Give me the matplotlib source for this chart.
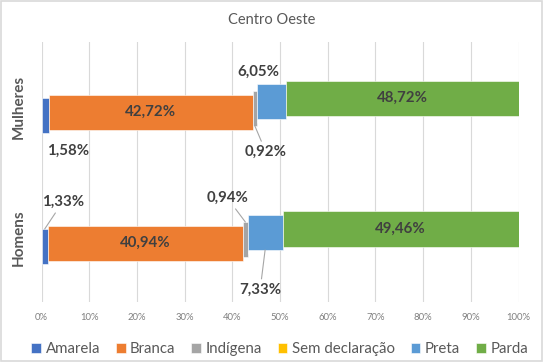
import matplotlib
matplotlib.use('Agg')
import matplotlib.pyplot as plt
from matplotlib.patches import Rectangle
import numpy as np

plt.rcParams['font.family'] = ['Lato', 'DejaVu Sans']

# dados
title = 'Centro Oeste'
rows = ['Homens', 'Mulheres']
series = ['Amarela', 'Branca', 'Indígena', 'Sem declaração', 'Preta', 'Parda']
colors = ['#4472C4', '#ED7D31', '#A5A5A5', '#FFC000', '#5B9BD5', '#70AD47']
homens = [1.33, 40.94, 0.94, 0.00, 7.33, 49.46]
mulheres = [1.58, 42.72, 0.92, 0.01, 6.05, 48.72]
xticks = np.arange(0, 101, 10)

# rótulos: (série, linha, posição, deslocamento em px, linha guia)
labels = [
    (0, 1, 'bottom', (23, -18), False),
    (1, 1, 'center', (0, 0), False),
    (2, 1, 'bottom', (11, -26), True),
    (4, 1, 'top', (-13, 12), False),
    (5, 1, 'center', (0, 0), False),
    (0, 0, 'top', (18, 27), True),
    (1, 0, 'center', (0, 0), False),
    (2, 0, 'top', (-18, 24), True),
    (4, 0, 'bottom', (-5, -40), True),
    (5, 0, 'center', (0, 0), False),
]

fig = plt.figure(figsize=(5.43, 3.62), dpi=100)
W, H = 543, 362
ax = fig.add_axes([41.5 / W, 1 - 302 / H, 477 / W, 260 / H])

values = np.array([homens, mulheres])
bar_h = 0.268
step = 0.0268
lefts = np.cumsum(values, axis=1) - values

for i, name in enumerate(series):
    ypos = np.arange(len(rows)) + (i - 2.5) * step
    ax.barh(ypos, values[:, i], left=lefts[:, i], height=bar_h,
            color=colors[i], edgecolor='white', linewidth=0.4, label=name, zorder=3)

for i, r, pos, (dx, dy), guide in labels:
    v = values[r, i]
    xc = lefts[r, i] + v / 2
    yc = r + (i - 2.5) * step
    txt = f'{v:.2f}%'.replace('.', ',')
    if pos == 'center':
        ax.text(xc, yc, txt, ha='center', va='center', fontsize=10.8,
                fontweight='bold', color='#404040', zorder=5)
        continue
    y0 = yc + bar_h / 2 if pos == 'top' else yc - bar_h / 2
    ax.annotate(txt, xy=(xc, y0), xytext=(dx, dy), textcoords='offset pixels',
                ha='center', va='center', fontsize=10.8, fontweight='bold',
                color='#404040', zorder=5,
                arrowprops=dict(arrowstyle='-', color='#A6A6A6', lw=0.8,
                                shrinkA=1, shrinkB=0) if guide else None)

ax.set_xlim(0, 100)
ax.set_ylim(-0.491, 1.497)
ax.set_xticks(xticks)
ax.set_xticklabels([f'{t}%' for t in xticks], fontsize=6.8, color='#7F7F7F')
ax.set_yticks(range(len(rows)))
ax.set_yticklabels(rows, rotation=90, va='center', fontsize=11,
                   fontweight='bold', color='#595959')
ax.tick_params(length=0, pad=8)
ax.tick_params(axis='y', pad=11)
ax.grid(axis='x', color='#D9D9D9', lw=0.8, zorder=0)
for s in ax.spines.values():
    s.set_visible(False)

fig.text(0.5, 1 - 20 / H, title, ha='center', va='center', fontsize=10.5, color='#595959')

fig.legend(loc='center', bbox_to_anchor=(0.515, 1 - 349 / H), ncol=6, frameon=False,
           fontsize=10.8, handlelength=0.65, handleheight=0.65, handletextpad=0.3,
           columnspacing=1.05, labelcolor='#595959')

fig.patches.append(Rectangle((0.001, 0.002), 0.997, 0.996, transform=fig.transFigure,
                             fill=False, edgecolor='#D9D9D9', lw=1.2))

fig.savefig('out.png', dpi=100)
